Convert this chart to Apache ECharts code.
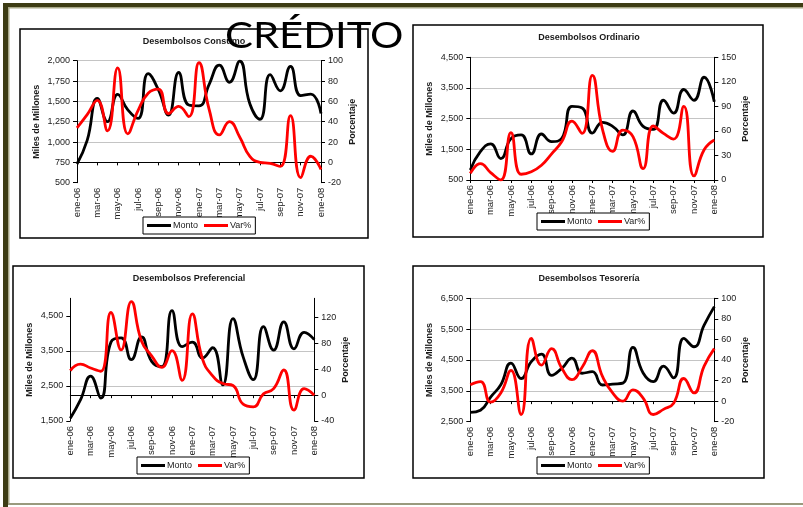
<!DOCTYPE html>
<html>
<head>
<meta charset="utf-8">
<title>Crédito</title>
<script src="https://cdn.jsdelivr.net/npm/echarts@6/dist/echarts.min.js"></script>
<style>
  html, body { margin: 0; padding: 0; background: #ffffff; }
  #chart { width: 803px; height: 507px; }
</style>
</head>
<body>
<div id="chart"></div>
<script>
// Monthly disbursements (Miles de Millones) and year-over-year change (Porcentaje)
const months = ['ene-06','feb-06','mar-06','abr-06','may-06','jun-06','jul-06','ago-06','sep-06','oct-06','nov-06','dic-06',
                'ene-07','feb-07','mar-07','abr-07','may-07','jun-07','jul-07','ago-07','sep-07','oct-07','nov-07','dic-07','ene-08'];

const consumoMonto = [730, 1020, 1535, 1250, 1585, 1395, 1290, 1840, 1645, 1330, 1855, 1455, 1445, 1710, 1945, 1735, 1995, 1470, 1280, 1828, 1630, 1930, 1570, 1590, 1350];
const consumoVar   = [34, 47, 61, 31, 93, 28, 51, 68, 72, 48, 55, 45, 98, 52, 27, 40, 25, 6, 0, -1, -4, 46, -15, 6, -7];

const ordinarioMonto = [830, 1430, 1680, 1200, 1850, 1970, 1350, 2000, 1750, 1860, 2900, 2850, 2030, 2380, 2250, 1970, 2750, 2250, 2150, 3100, 2680, 3450, 3100, 3850, 3050];
const ordinarioVar   = [8, 20, 9, 0, 58, 7, 10, 18, 32, 47, 72, 57, 128, 62, 35, 61, 53, 14, 66, 57, 50, 90, 5, 37, 49];

const preferencialMonto = [1580, 2100, 2780, 2150, 3750, 3870, 3250, 3900, 3200, 3050, 4650, 3620, 3750, 3300, 3590, 2530, 4420, 3330, 2680, 4190, 3520, 4330, 3560, 4030, 3820];
const preferencialVar   = [38, 48, 42, 37, 128, 70, 145, 84, 61, 43, 69, 23, 126, 56, 30, 18, 15, -14, -18, 2, 10, 39, -23, 10, 0];

const tesoreriaMonto = [2800, 2870, 3300, 3700, 4400, 3900, 4450, 4690, 4000, 4230, 4560, 4070, 4120, 3690, 3720, 3750, 4910, 4080, 3800, 4300, 3920, 5200, 4930, 5630, 6230];
const tesoreriaVar   = [16, 19, -1, 8, 30, -13, 61, 35, 51, 32, 21, 33, 49, 24, 8, 0, 11, 3, -13, -8, -2, 22, 8, 34, 51];

const seriesNames = ['Monto', 'Var%'];
const leftAxisName = 'Miles de Millones';
const rightAxisName = 'Porcentaje';
const mainTitle = 'CRÉDITO';

// Panel layout (pixel geometry of each small chart)
const panels = [
  { title: 'Desembolsos Consumo', monto: consumoMonto, varp: consumoVar,
    box: [20, 29, 348, 209], grid: [77, 60.7, 244, 122], titleAt: [194, 42], legendAt: [143, 217],
    left: { min: 500, max: 2000, interval: 250 }, right: { min: -20, max: 100, interval: 20 } },
  { title: 'Desembolsos Ordinario', monto: ordinarioMonto, varp: ordinarioVar,
    box: [413, 25, 350, 212], grid: [470.3, 57.3, 244, 122.7], titleAt: [589, 37.5], legendAt: [537, 213],
    left: { min: 500, max: 4500, interval: 1000 }, right: { min: 0, max: 150, interval: 30 } },
  { title: 'Desembolsos Preferencial', monto: preferencialMonto, varp: preferencialVar,
    box: [13, 266, 351, 212], grid: [70.3, 298.3, 244, 122.7], titleAt: [189, 279], legendAt: [137, 457],
    left: { min: 1500, max: 5000, interval: 1000, ticks: [1500, 2500, 3500, 4500] },
    right: { min: -40, max: 150, interval: 40, ticks: [-40, 0, 40, 80, 120] } },
  { title: 'Desembolsos Tesorería', monto: tesoreriaMonto, varp: tesoreriaVar,
    box: [413, 266, 351, 212], grid: [470.3, 298.3, 244, 123.4], titleAt: [589, 279], legendAt: [537, 457],
    left: { min: 2500, max: 6500, interval: 1000 }, right: { min: -20, max: 100, interval: 20 } }
];

const FONT = '"Liberation Sans", Arial, sans-serif';
const TXT = '#1a1a1a';

function thousands(v) {
  const s = String(Math.round(v));
  return s.replace(/\B(?=(\d{3})+(?!\d))/g, ',');
}

const option = {
  animation: false,
  backgroundColor: '#ffffff',
  title: [], legend: [], grid: [], xAxis: [], yAxis: [], series: [],
  graphic: []
};

// Outer olive frame
const olive = '#3d3c14';
const oliveLight = '#a8a888';
option.graphic.push(
  { type: 'rect', shape: { x: 3, y: 3, width: 800, height: 4 }, style: { fill: olive }, silent: true },
  { type: 'rect', shape: { x: 3, y: 3, width: 5, height: 504 }, style: { fill: olive }, silent: true },
  { type: 'rect', shape: { x: 8, y: 7, width: 795, height: 1.5 }, style: { fill: oliveLight }, silent: true },
  { type: 'rect', shape: { x: 8, y: 7, width: 1.5, height: 497 }, style: { fill: oliveLight }, silent: true },
  { type: 'rect', shape: { x: 8, y: 503, width: 795, height: 2 }, style: { fill: '#9a9a7e' }, silent: true }
);

function axisTickCfg(p) {
  const cfg = { show: true, length: 4, lineStyle: { color: '#000' } };
  if (p.ticks) cfg.customValues = p.ticks;
  return cfg;
}

panels.forEach(function (p, i) {
  // panel border
  option.graphic.push({
    type: 'rect', silent: true, z: 1,
    shape: { x: p.box[0], y: p.box[1], width: p.box[2], height: p.box[3] },
    style: { fill: 'none', stroke: '#000', lineWidth: 1.5 }
  });

  option.title.push({
    text: p.title, left: p.titleAt[0], top: p.titleAt[1], textAlign: 'center', textVerticalAlign: 'middle',
    padding: 0,
    textStyle: { fontFamily: FONT, fontSize: 9, fontWeight: 'bold', color: TXT }
  });

  option.grid.push({ left: p.grid[0], top: p.grid[1], width: p.grid[2], height: p.grid[3], containLabel: false });

  option.xAxis.push({
    type: 'category', gridIndex: i, data: months, boundaryGap: false,
    axisLine: { lineStyle: { color: '#000', width: 1 } },
    axisTick: { interval: 1, length: 3, lineStyle: { color: '#000' } },
    axisLabel: { interval: 1, rotate: 90, margin: 5, fontFamily: FONT, fontSize: 9.5, color: TXT },
    splitLine: { show: false }
  });

  const yl = {
    type: 'value', gridIndex: i, position: 'left',
    min: p.left.min, max: p.left.max, interval: p.left.interval,
    name: leftAxisName, nameLocation: 'middle', nameRotate: 90, nameGap: 36,
    nameTextStyle: { fontFamily: FONT, fontSize: 9, fontWeight: 'bold', color: TXT },
    axisLine: { show: true, lineStyle: { color: '#000', width: 1 } },
    axisTick: axisTickCfg(p.left),
    axisLabel: { margin: 7, fontFamily: FONT, fontSize: 9, color: TXT, formatter: thousands,
                 showMaxLabel: !p.left.ticks },
    splitLine: { show: true, showMinLine: false, showMaxLine: !p.left.ticks, lineStyle: { color: '#c4c4c4', width: 1 } }
  };
  const yr = {
    type: 'value', gridIndex: i, position: 'right',
    min: p.right.min, max: p.right.max, interval: p.right.interval,
    name: rightAxisName, nameLocation: 'middle', nameRotate: 90, nameGap: 27,
    nameTextStyle: { fontFamily: FONT, fontSize: 9, fontWeight: 'bold', color: TXT },
    axisLine: { show: true, lineStyle: { color: '#000', width: 1 } },
    axisTick: axisTickCfg(p.right),
    axisLabel: { margin: 7, fontFamily: FONT, fontSize: 9, color: TXT, showMaxLabel: !p.right.ticks },
    splitLine: { show: false }
  };
  option.yAxis.push(yl, yr);

  option.series.push({
    name: seriesNames[0], type: 'line', xAxisIndex: i, yAxisIndex: 2 * i,
    data: p.monto, smooth: 0.5, showSymbol: false, symbol: 'none',
    lineStyle: { color: '#000000', width: 2.8 }, itemStyle: { color: '#000000' }, z: 2
  }, {
    name: seriesNames[1], type: 'line', xAxisIndex: i, yAxisIndex: 2 * i + 1,
    data: p.varp, smooth: 0.5, showSymbol: false, symbol: 'none',
    lineStyle: { color: '#ff0000', width: 2.8 }, itemStyle: { color: '#ff0000' }, z: 3
  });

  option.legend.push({
    data: seriesNames, left: p.legendAt[0], top: p.legendAt[1], orient: 'horizontal',
    icon: 'rect', itemWidth: 24, itemHeight: 3, itemGap: 6,
    padding: [3, 4], borderColor: '#000', borderWidth: 1, borderRadius: 0, backgroundColor: '#ffffff',
    textStyle: { fontFamily: FONT, fontSize: 9, color: TXT, lineHeight: 11, padding: [0, 0, 0, -3] },
    selectedMode: false
  });
});

// Page heading drawn on top of everything, stretched slightly wider
option.graphic.push({
  type: 'text', z: 100, silent: true,
  x: 225, y: 36, scaleX: 1.16,
  style: {
    x: 0, y: 0, text: mainTitle, textAlign: 'left', textVerticalAlign: 'middle',
    fontFamily: 'Lato, "Liberation Sans", sans-serif', fontWeight: 'normal', fontSize: 36, fill: '#000'
  }
});

const chart = echarts.init(document.getElementById('chart'), null, { renderer: 'canvas', width: 803, height: 507 });
chart.setOption(option);
</script>
</body>
</html>
